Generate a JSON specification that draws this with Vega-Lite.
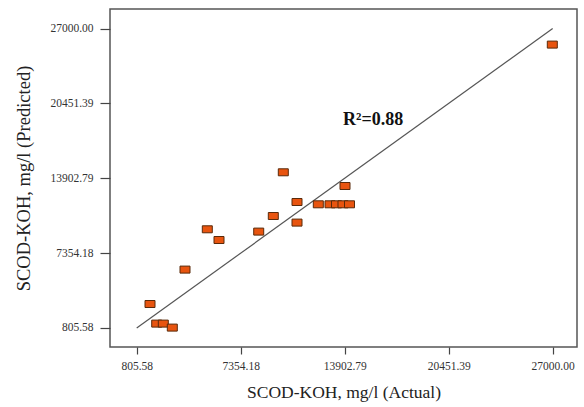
{
  "$schema": "https://vega.github.io/schema/vega-lite/v6.json",
  "width": 467,
  "height": 338,
  "autosize": "none",
  "padding": {"left": 110, "top": 9, "right": 7, "bottom": 60},
  "background": "white",
  "config": {
    "view": {"stroke": "#555555", "strokeWidth": 1.5},
    "font": "Liberation Serif"
  },
  "datasets": {
    "points": [
      {"actual": 1643, "predicted": 2905},
      {"actual": 2065, "predicted": 1190},
      {"actual": 2481, "predicted": 1190},
      {"actual": 3047, "predicted": 840},
      {"actual": 3847, "predicted": 5915},
      {"actual": 5251, "predicted": 9441},
      {"actual": 5988, "predicted": 8504},
      {"actual": 8488, "predicted": 9240},
      {"actual": 9407, "predicted": 10604},
      {"actual": 10037, "predicted": 14428},
      {"actual": 10900, "predicted": 11829},
      {"actual": 10900, "predicted": 10027},
      {"actual": 12241, "predicted": 11628},
      {"actual": 12978, "predicted": 11628},
      {"actual": 13387, "predicted": 11628},
      {"actual": 13796, "predicted": 11628},
      {"actual": 14206, "predicted": 11628},
      {"actual": 13922, "predicted": 13229},
      {"actual": 26976, "predicted": 25600}
    ],
    "fit": [{"x": 805.58, "y": 805.58, "x2": 27000, "y2": 27000}],
    "label": [{"x": 13797, "y": 18540, "text": "R²=0.88"}]
  },
  "layer": [
    {
      "data": {"name": "fit"},
      "mark": {"type": "rule", "color": "#555555", "strokeWidth": 1.2},
      "encoding": {
        "x": {
          "field": "x", "type": "quantitative",
          "scale": {"domain": [-876, 28531], "nice": false, "zero": false},
          "axis": {
            "values": [805.58, 7354.18, 13902.79, 20451.39, 27000],
            "format": ".2f",
            "domain": false, "grid": false,
            "tickSize": 7, "tickColor": "#444444", "tickWidth": 1.2,
            "labelFont": "Liberation Serif", "labelFontSize": 11.5, "labelColor": "#333333",
            "labelPadding": 6,
            "title": "SCOD-KOH, mg/l (Actual)",
            "titleFont": "Liberation Serif", "titleFontSize": 17.5, "titleFontWeight": "normal",
            "titleColor": "#222222", "titlePadding": 12
          }
        },
        "y": {
          "field": "y", "type": "quantitative",
          "scale": {"domain": [-857, 28715], "nice": false, "zero": false},
          "axis": {
            "values": [805.58, 7354.18, 13902.79, 20451.39, 27000],
            "format": ".2f",
            "domain": false, "grid": false,
            "tickSize": 10, "tickColor": "#444444", "tickWidth": 1.2,
            "labelFont": "Liberation Serif", "labelFontSize": 11.5, "labelColor": "#333333",
            "labelPadding": 7,
            "title": "SCOD-KOH, mg/l (Predicted)",
            "titleFont": "Liberation Serif", "titleFontSize": 18.5, "titleFontWeight": "normal",
            "titleColor": "#222222", "titlePadding": 16
          }
        },
        "x2": {"field": "x2"},
        "y2": {"field": "y2"}
      }
    },
    {
      "data": {"name": "points"},
      "mark": {
        "type": "point",
        "shape": "M-1,-0.7L1,-0.7L1,0.7L-1,0.7Z",
        "size": 100,
        "filled": true,
        "fill": "#E8540F",
        "stroke": "#5A2A0A",
        "strokeWidth": 1,
        "opacity": 1
      },
      "encoding": {
        "x": {"field": "actual", "type": "quantitative"},
        "y": {"field": "predicted", "type": "quantitative"}
      }
    },
    {
      "data": {"name": "label"},
      "mark": {
        "type": "text", "align": "left", "baseline": "alphabetic",
        "font": "Liberation Serif", "fontSize": 18, "fontWeight": "bold", "color": "#111111"
      },
      "encoding": {
        "x": {"field": "x", "type": "quantitative"},
        "y": {"field": "y", "type": "quantitative"},
        "text": {"field": "text"}
      }
    }
  ]
}
